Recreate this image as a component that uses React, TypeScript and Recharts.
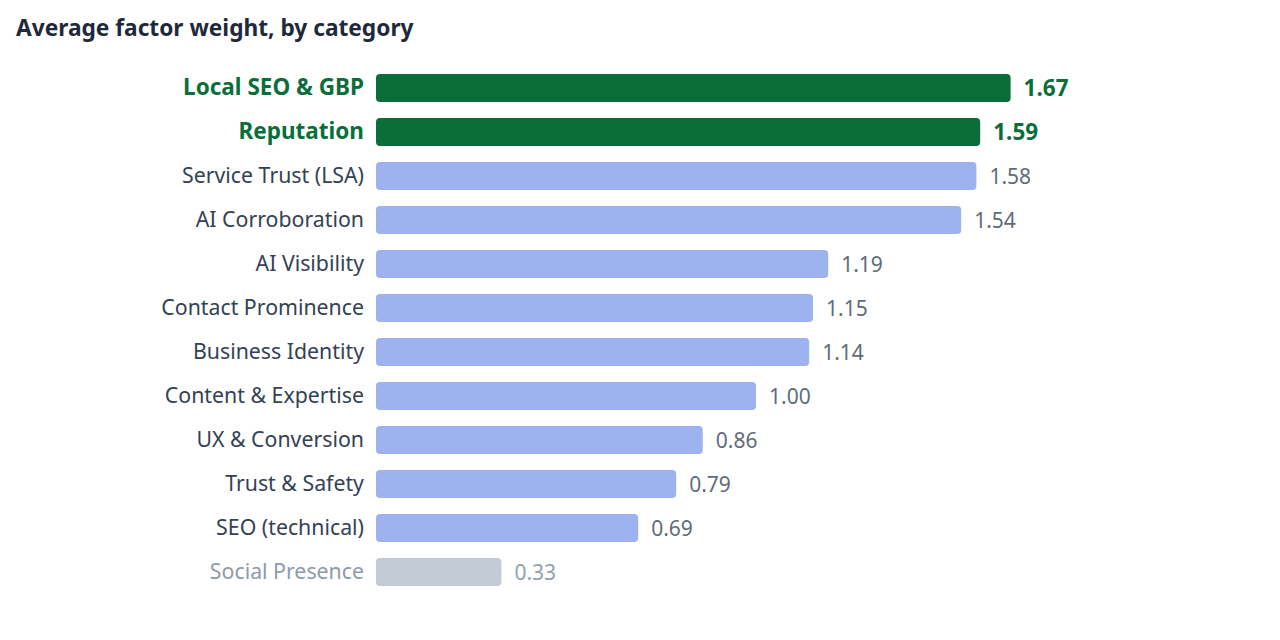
import React from 'react';
import { BarChart, Bar, XAxis, YAxis, Cell, LabelList } from 'recharts';

const categories = [
  'Local SEO & GBP',
  'Reputation',
  'Service Trust (LSA)',
  'AI Corroboration',
  'AI Visibility',
  'Contact Prominence',
  'Business Identity',
  'Content & Expertise',
  'UX & Conversion',
  'Trust & Safety',
  'SEO (technical)',
  'Social Presence',
];
const weights = [1.67, 1.59, 1.58, 1.54, 1.19, 1.15, 1.14, 1.0, 0.86, 0.79, 0.69, 0.33];
// top / normal / low
const tiers = ['top', 'top', 'mid', 'mid', 'mid', 'mid', 'mid', 'mid', 'mid', 'mid', 'mid', 'low'];

const data = categories.map((name, i) => ({ name, value: weights[i], tier: tiers[i] }));

const FONT = '"Noto Sans", "Open Sans", sans-serif';
const barColor: Record<string, string> = { top: '#0b6e3a', mid: '#9db3f0', low: '#c3cbd6' };
const labelColor: Record<string, string> = { top: '#0b6e3a', mid: '#334155', low: '#8e9aab' };
const valueColor: Record<string, string> = { top: '#0b6e3a', mid: '#5f6b7b', low: '#94a0b0' };

const CategoryTick = (props: any) => {
  const { x, y, payload, index } = props;
  const tier = tiers[index] ?? 'mid';
  const bold = tier === 'top';
  return (
    <text
      x={x}
      y={y}
      dy={7}
      textAnchor="end"
      fontFamily={FONT}
      fontSize={bold ? 22.5 : 21.3}
      fontWeight={bold ? 700 : 400}
      fill={labelColor[tier]}
    >
      {payload.value}
    </text>
  );
};

const ValueLabel = (props: any) => {
  const { x, y, width, height, value, index } = props;
  const tier = tiers[index] ?? 'mid';
  const bold = tier === 'top';
  return (
    <text
      x={x + width + 13}
      y={y + height / 2}
      dy={8}
      fontFamily={FONT}
      fontSize={bold ? 22.5 : 21}
      fontWeight={bold ? 700 : 400}
      fill={valueColor[tier]}
    >
      {Number(value).toFixed(2)}
    </text>
  );
};

export default function App() {
  return (
    <div style={{ position: 'relative', width: 1264, height: 620, fontFamily: FONT }}>
      <div
        style={{
          position: 'absolute',
          left: 8,
          top: 4,
          fontSize: 22.7,
          fontWeight: 700,
          color: '#1e293b',
        }}
      >
        Average factor weight, by category
      </div>
      <BarChart
        width={1264}
        height={600}
        data={data}
        layout="vertical"
        margin={{ top: 58, right: 136, bottom: 14, left: 0 }}
        style={{ position: 'absolute', left: 0, top: 0 }}
      >
        <XAxis type="number" domain={[0, 2]} hide />
        <YAxis
          type="category"
          dataKey="name"
          width={368}
          axisLine={false}
          tickLine={false}
          tickSize={0}
          tickMargin={12}
          interval={0}
          tick={<CategoryTick />}
        />
        <Bar dataKey="value" barSize={28} radius={4} isAnimationActive={false}>
          {data.map((d, i) => (
            <Cell key={i} fill={barColor[d.tier]} />
          ))}
          <LabelList dataKey="value" content={<ValueLabel />} />
        </Bar>
      </BarChart>
    </div>
  );
}
